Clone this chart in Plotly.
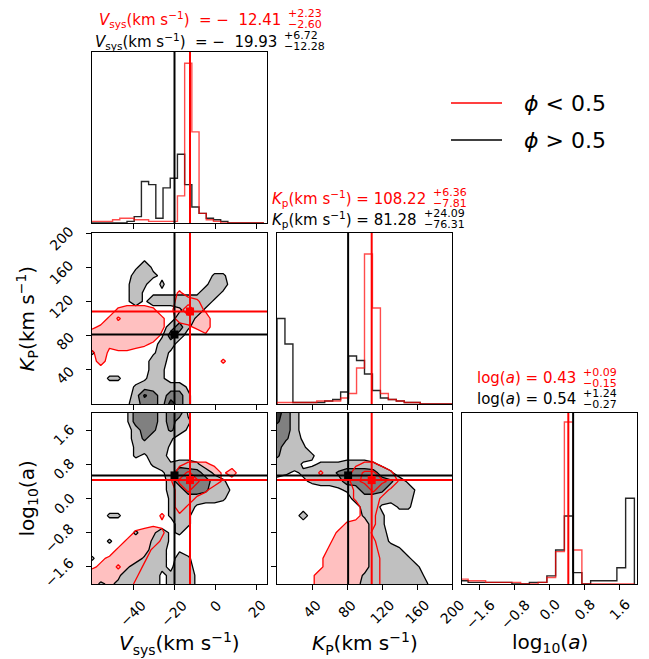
import numpy as np
import plotly.graph_objects as go

W, H = 649, 659

# ---------------- parameter axes ----------------
ranges = [[-60, 25], [0, 200], [-2, 2]]          # V_sys, K_P, log10(a)
tick_vals = [[-40, -20, 0, 20],
             [40, 80, 120, 160, 200],
             [-1.6, -0.8, 0.0, 0.8, 1.6]]
tick_dec = [0, 0, 1]

# ---------------- summary statistics (median, +err, -err) ----------------
vsys_lo = [-12.41, 2.23, 2.60]    # phi < 0.5
vsys_hi = [-19.93, 6.72, 12.28]   # phi > 0.5
kp_lo = [108.22, 6.36, 7.81]
kp_hi = [81.28, 24.09, 76.31]
loga_lo = [0.43, 0.09, 0.15]
loga_hi = [0.54, 1.24, 0.27]

# ---------------- 1D marginal histograms ----------------
vsys_edges = np.arange(-60.5, 24.0, 3.5)
vsys_hist_hi = [0, 0, 0, 0, 0, 1, 4, 26, 24, 3, 22, 28, 43, 24, 10, 6, 3, 2, 1, 0, 0, 0, 0, 0]
vsys_hist_lo = [1, 1, 1, 2, 3, 3, 2, 2, 1, 1, 1, 1, 17, 100, 57, 6, 2, 1, 0, 0, 0, 0, 0, 0]

kp_edges = np.linspace(0, 200, 23)
kp_hist_hi = [57, 40, 1, 1, 1, 1, 2, 3, 8, 32, 29, 20, 9, 4, 3, 2, 1, 1, 0, 0, 0, 0]
kp_hist_lo = [1, 1, 1, 1, 1, 2, 2, 2, 4, 7, 24, 100, 64, 7, 3, 2, 1, 1, 0, 0, 0, 0]

loga_edges = np.round(np.arange(-2.06, 1.95, 0.2), 2)
loga_hist_hi = [2, 1, 1, 1, 1, 1, 0, 0, 1, 1, 5, 21, 42, 7, 0, 2, 2, 2, 10, 53]
loga_hist_lo = [3, 2, 2, 1, 1, 1, 1, 0, 0, 1, 4, 20, 100, 21, 0, 0, 0, 0, 0, 0]

hist_top = [107, 114, 105.6]

# ---------------- 2D density levels (rows from top to bottom, 21x21 nodes) ----------------
dens_vk_hi = [
    "000000000000000000000",
    "000000000000000000000",
    "000000000000000000000",
    "000000100000000000000",
    "000001310000000000000",
    "000003321000002200000",
    "000013202000013300000",
    "000013111111133100000",
    "000013133333331000000",
    "000000000013310000000",
    "000000000033100000000",
    "000000000362000000000",
    "000000001630000000000",
    "000000003300000000000",
    "200000013100000000000",
    "000000033000000000000",
    "000000032000000000000",
    "002200132000000000000",
    "000002333331000000000",
    "000003863662000000000",
    "000013663962000000000",
]
dens_vk_lo = [
    "000000000000000000000",
    "000000000000000000000",
    "000000000000000000000",
    "000000000000000000000",
    "000000000000000000000",
    "000000000000000000000",
    "000000000000000000000",
    "000000000020000000000",
    "000000000033200000000",
    "000233320137310000000",
    "002533332033330000000",
    "123333332001230000000",
    "333333331000010000000",
    "332333210000000000000",
    "131110000000000000000",
    "030000000000000200000",
    "000000000000000000000",
    "000000000000000000000",
    "000000000000000000000",
    "000000000000000000000",
    "000000000000000000000",
]
dens_va_hi = [
    "000016663661000000000",
    "000016663632000000000",
    "000003653531000000000",
    "000003533200000000000",
    "000002333100000000000",
    "000002133000000000000",
    "000000023233200000000",
    "000000001376631000000",
    "000000000366663200000",
    "000000000336653310000",
    "000000000233333200000",
    "000000000233100000000",
    "002200000232000000000",
    "000000000032000000000",
    "000002013120000000000",
    "002000023100000000000",
    "000000033010000000000",
    "200000233032000000000",
    "000013332133000000000",
    "000133331233100000000",
    "021233331233100000000",
]
dens_va_lo = [
    "000000000000000000000",
    "000000000000000000000",
    "000000000000000000000",
    "000000000000000000000",
    "000000000000000000000",
    "000000000000000000000",
    "000000000012221000000",
    "000000000035333130000",
    "000000000157533100000",
    "000000000035320000000",
    "000000000033100000000",
    "000000000031000000000",
    "000000002010000000000",
    "000000011000000000000",
    "000002332000000000000",
    "000023331000000000000",
    "000233310000000000000",
    "012333200000000000000",
    "123533100000000000000",
    "333332000000000000000",
    "333331000000000000000",
]
dens_ka_hi = [
    "963000000000000000000",
    "863000000000000000000",
    "663000000000000000000",
    "653100000000000000000",
    "633200000000000000000",
    "533320000000000000000",
    "333112223332100000000",
    "321233356666320000000",
    "000122236666653100000",
    "000001112366533310000",
    "000000000333333300000",
    "000000000033102200000",
    "000300000023200000000",
    "000000000003200000000",
    "000000000003300000000",
    "000000000003310000000",
    "000000000003332000000",
    "000000000003333200000",
    "000000000003333320000",
    "000000000023333331000",
    "000000000033333332000",
]
dens_ka_lo = [
    "000000000000000000000",
    "000000000000000000000",
    "000000000000000000000",
    "000000000000000000000",
    "000000000000000000000",
    "000000000000000000000",
    "000000000122100000000",
    "000002000355320000000",
    "000000000457541000000",
    "000000000235310000000",
    "000000000233100000000",
    "000000000033000000000",
    "000000000032000000000",
    "000000002332000000000",
    "000000023331000000000",
    "000000133332000000000",
    "000000233333000000000",
    "000001333333100000000",
    "000001333333100000000",
    "000013333333100000000",
    "000013333333100000000",
]

# ---------------- figure geometry (pixels) ----------------
cols = [(92, 267), (277, 452), (462, 637)]
rows = [(52, 223), (233, 404), (413, 584)]
panels = {(0, 0): 1, (1, 0): 2, (1, 1): 3, (2, 0): 4, (2, 1): 5, (2, 2): 6}

RED = "#ff0000"
BLACK = "#000000"
NB = "\u00a0"


def fx(p):
    return p / W


def fy(p):
    return 1 - p / H


def suffix(n):
    return "" if n == 1 else str(n)


def grid(rows_txt):
    return np.array([[int(ch) for ch in r] for r in rows_txt[::-1]], dtype=float)


def step_xy(edges, counts):
    edges = list(edges)
    xs = [edges[0]] + edges
    ys = [0] + list(counts) + [0]
    return xs, ys


def tick_text(v, dec):
    s = ("%." + str(dec) + "f") % abs(v)
    return ("−" + s) if v < 0 else s


fig = go.Figure()

medians_lo = [vsys_lo[0], kp_lo[0], loga_lo[0]]
medians_hi = [vsys_hi[0], kp_hi[0], loga_hi[0]]
hists = [
    (vsys_edges, vsys_hist_hi, vsys_hist_lo),
    (kp_edges, kp_hist_hi, kp_hist_lo),
    (loga_edges, loga_hist_hi, loga_hist_lo),
]
dens = {
    (1, 0): (dens_vk_hi, dens_vk_lo),
    (2, 0): (dens_va_hi, dens_va_lo),
    (2, 1): (dens_ka_hi, dens_ka_lo),
}

grey_scale = [[0, "rgba(0,0,0,0)"], [1 / 6, "rgba(0,0,0,0)"],
              [1 / 6, "#c0c0c0"], [0.5, "#c0c0c0"],
              [0.5, "#808080"], [5 / 6, "#808080"],
              [5 / 6, "#333333"], [1, "#333333"]]
pink_scale = [[0, "rgba(0,0,0,0)"], [1 / 6, "rgba(0,0,0,0)"],
              [1 / 6, "#ffc0c0"], [0.5, "#ffc0c0"],
              [0.5, "#ffa8a8"], [5 / 6, "#ffa8a8"],
              [5 / 6, "#ff9090"], [1, "#ff9090"]]
levels = dict(start=1.5, end=7.5, size=3)

for (r, c), n in panels.items():
    xa, ya = "x" + suffix(n), "y" + suffix(n)
    if r == c:
        edges, h_hi, h_lo = hists[c]
        xs, ys = step_xy(edges, h_hi)
        fig.add_trace(go.Scatter(x=xs, y=ys, mode="lines", line_shape="hv",
                                 line=dict(color="rgba(0,0,0,0.85)", width=1.4),
                                 xaxis=xa, yaxis=ya, hoverinfo="skip"))
        xs, ys = step_xy(edges, h_lo)
        fig.add_trace(go.Scatter(x=xs, y=ys, mode="lines", line_shape="hv",
                                 line=dict(color="rgba(255,0,0,0.7)", width=1.4),
                                 xaxis=xa, yaxis=ya, hoverinfo="skip"))
        for med, col in ((medians_hi[c], BLACK), (medians_lo[c], RED)):
            fig.add_trace(go.Scatter(x=[med, med], y=[0, hist_top[c]], mode="lines",
                                     line=dict(color=col, width=2),
                                     xaxis=xa, yaxis=ya, hoverinfo="skip"))
    else:
        d_hi, d_lo = dens[(r, c)]
        gx = np.linspace(ranges[c][0], ranges[c][1], 21)
        gy = np.linspace(ranges[r][0], ranges[r][1], 21)
        # pink fill of the phi < 0.5 sample (underneath)
        fig.add_trace(go.Contour(x=gx, y=gy, z=grid(d_lo), autocontour=False,
                                 contours=dict(coloring="fill", showlines=False, **levels),
                                 colorscale=pink_scale, showscale=False,
                                 line=dict(width=0, smoothing=0),
                                 xaxis=xa, yaxis=ya, hoverinfo="skip"))
        # grey filled contours of the phi > 0.5 sample
        fig.add_trace(go.Contour(x=gx, y=gy, z=grid(d_hi), autocontour=False,
                                 contours=dict(coloring="fill", showlines=True, **levels),
                                 colorscale=grey_scale, showscale=False,
                                 line=dict(color=BLACK, width=1.3, smoothing=0),
                                 xaxis=xa, yaxis=ya, hoverinfo="skip"))
        # red contour outlines on top
        fig.add_trace(go.Contour(x=gx, y=gy, z=grid(d_lo), autocontour=False,
                                 contours=dict(coloring="none", showlines=True, **levels),
                                 showscale=False,
                                 line=dict(color=RED, width=1.3, smoothing=0),
                                 xaxis=xa, yaxis=ya, hoverinfo="skip"))
        for meds, col in ((medians_hi, BLACK), (medians_lo, RED)):
            fig.add_trace(go.Scatter(x=[meds[c], meds[c]], y=ranges[r], mode="lines",
                                     line=dict(color=col, width=2),
                                     xaxis=xa, yaxis=ya, hoverinfo="skip"))
            fig.add_trace(go.Scatter(x=ranges[c], y=[meds[r], meds[r]], mode="lines",
                                     line=dict(color=col, width=2),
                                     xaxis=xa, yaxis=ya, hoverinfo="skip"))
            fig.add_trace(go.Scatter(x=[meds[c]], y=[meds[r]], mode="markers",
                                     marker=dict(symbol="square", size=8, color=col),
                                     xaxis=xa, yaxis=ya, hoverinfo="skip"))

layout = dict(width=W, height=H, autosize=False, margin=dict(l=0, r=0, t=0, b=0, pad=0),
              paper_bgcolor="white", plot_bgcolor="white", showlegend=False,
              font=dict(family="DejaVu Sans", size=14, color="black"))

axis_style = dict(showline=True, mirror=True, linecolor="black", linewidth=1,
                  showgrid=False, zeroline=False, ticks="outside", ticklen=5,
                  tickwidth=1, tickcolor="black", showticklabels=False)

for (r, c), n in panels.items():
    s = suffix(n)
    xa = dict(axis_style, domain=[fx(cols[c][0]), fx(cols[c][1])], anchor="y" + s,
              range=ranges[c], tickvals=tick_vals[c])
    if r == c:
        ya = dict(axis_style, domain=[fy(rows[r][1]), fy(rows[r][0])], anchor="x" + s,
                  range=[0, hist_top[c]], ticks="")
    else:
        ya = dict(axis_style, domain=[fy(rows[r][1]), fy(rows[r][0])], anchor="x" + s,
                  range=ranges[r], tickvals=tick_vals[r])
    layout["xaxis" + s] = xa
    layout["yaxis" + s] = ya

fig.update_layout(**layout)

# ---------------- rotated tick labels ----------------
TKF = dict(family="DejaVu Sans", size=14, color="black")
bottom_axes = ["x4", "x5", "x6"]
for c in range(3):
    for v in tick_vals[c]:
        fig.add_annotation(text=tick_text(v, tick_dec[c]), x=v, xref=bottom_axes[c],
                           y=fy(594), yref="paper", xanchor="center", yanchor="top",
                           textangle=-45, showarrow=False, font=TKF)
left_axes = {1: "y2", 2: "y4"}
for r in (1, 2):
    for v in tick_vals[r]:
        fig.add_annotation(text=tick_text(v, tick_dec[r]), x=fx(80), xref="paper",
                           y=v, yref=left_axes[r], xanchor="right", yanchor="middle",
                           yshift=-5, textangle=-45, showarrow=False, font=TKF)

# ---------------- panel titles ----------------
title_names = ["<i>V</i><sub>sys</sub>(km s<sup>−1</sup>)",
               "<i>K</i><sub>p</sub>(km s<sup>−1</sup>)",
               "log(<i>a</i>)"]
title_stats = [(vsys_lo, vsys_hi), (kp_lo, kp_hi), (loga_lo, loga_hi)]
title_xend = [(283, 279), (428, 419), (578, 578)]
title_y = [(19.5, 41), (198, 219), (377.5, 399)]
TFS = 15


def fmt_val(v):
    if v < 0:
        return NB + "=" + NB + "−" + NB + NB + "%.2f" % -v
    return "=" + NB + "%.2f" % v


for c in range(3):
    for k, (stats, col) in enumerate(((title_stats[c][0], RED), (title_stats[c][1], BLACK))):
        xe = title_xend[c][k]
        yc = title_y[c][k]
        fig.add_annotation(text=title_names[c] + " " + fmt_val(stats[0]),
                           x=fx(xe), y=fy(yc), xref="paper", yref="paper",
                           xanchor="right", yanchor="middle", showarrow=False,
                           font=dict(family="DejaVu Sans", size=TFS, color=col))
        fig.add_annotation(text="+%.2f" % stats[1], x=fx(xe + 3), y=fy(yc - 5.5),
                           xref="paper", yref="paper", xanchor="left", yanchor="middle",
                           showarrow=False,
                           font=dict(family="DejaVu Sans", size=11, color=col))
        fig.add_annotation(text="−%.2f" % stats[2], x=fx(xe + 3), y=fy(yc + 5.5),
                           xref="paper", yref="paper", xanchor="left", yanchor="middle",
                           showarrow=False,
                           font=dict(family="DejaVu Sans", size=11, color=col))

# ---------------- axis labels ----------------
LFS = 20
xlabels = ["<i>V</i><sub>sys</sub>(km s<sup>−1</sup>)",
           "<i>K</i><sub>P</sub>(km s<sup>−1</sup>)",
           "log<sub>10</sub>(<i>a</i>)"]
for c in range(3):
    fig.add_annotation(text=xlabels[c], x=fx((cols[c][0] + cols[c][1]) / 2), y=fy(643),
                       xref="paper", yref="paper", xanchor="center", yanchor="middle",
                       showarrow=False, font=dict(family="DejaVu Sans", size=LFS))
ylabels = ["<i>K</i><sub>P</sub>(km s<sup>−1</sup>)", "log<sub>10</sub>(a)"]
for r in (1, 2):
    fig.add_annotation(text=ylabels[r - 1], x=fx(27), y=fy((rows[r][0] + rows[r][1]) / 2),
                       xref="paper", yref="paper", xanchor="center", yanchor="middle",
                       textangle=-90, showarrow=False,
                       font=dict(family="DejaVu Sans", size=LFS))

# ---------------- legend ----------------
legend_items = [("<i>ϕ</i> < 0.5", RED, 103), ("<i>ϕ</i> > 0.5", BLACK, 140)]
for txt, col, yy in legend_items:
    fig.add_shape(type="line", xref="paper", yref="paper",
                  x0=fx(451), x1=fx(502), y0=fy(yy), y1=fy(yy),
                  line=dict(color=col, width=1.6))
    fig.add_annotation(text=txt, x=fx(522), y=fy(yy), xref="paper", yref="paper",
                       xanchor="left", yanchor="middle", showarrow=False,
                       font=dict(family="DejaVu Sans", size=22, color="black"))

fig.write_html("out.html")
